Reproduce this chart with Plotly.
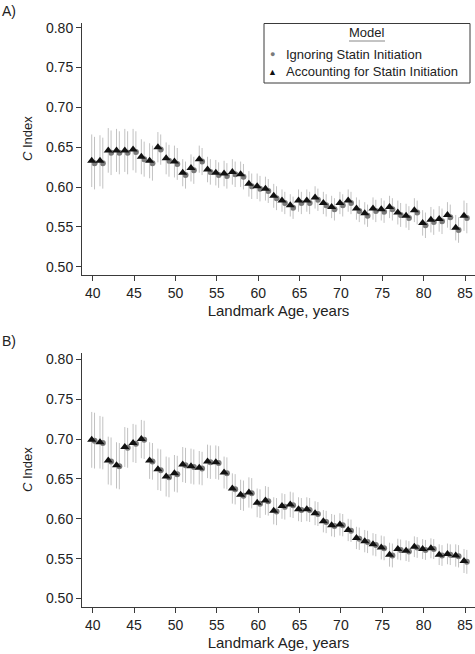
import plotly.graph_objects as go
from plotly.subplots import make_subplots

ages = list(range(40, 86))

# Panel A
a_acc = [0.633, 0.633, 0.646, 0.646, 0.646, 0.647, 0.638, 0.633, 0.650, 0.636,
         0.632, 0.618, 0.624, 0.635, 0.622, 0.618, 0.617, 0.619, 0.616, 0.604,
         0.601, 0.598, 0.589, 0.583, 0.577, 0.583, 0.583, 0.587, 0.580, 0.575,
         0.580, 0.583, 0.573, 0.567, 0.573, 0.572, 0.575, 0.568, 0.564, 0.571,
         0.555, 0.559, 0.560, 0.565, 0.549, 0.564]
a_ign = [0.630, 0.630, 0.643, 0.643, 0.643, 0.644, 0.635, 0.630, 0.647, 0.633,
         0.629, 0.615, 0.621, 0.632, 0.619, 0.615, 0.614, 0.616, 0.613, 0.601,
         0.598, 0.595, 0.586, 0.580, 0.574, 0.580, 0.580, 0.584, 0.577, 0.572,
         0.577, 0.580, 0.570, 0.564, 0.570, 0.569, 0.572, 0.565, 0.561, 0.568,
         0.552, 0.556, 0.557, 0.562, 0.546, 0.561]
a_ci = [0.033, 0.032, 0.028, 0.027, 0.027, 0.026, 0.022, 0.022, 0.019, 0.020,
        0.020, 0.017, 0.017, 0.017, 0.016, 0.016, 0.016, 0.016, 0.016, 0.016,
        0.016, 0.015, 0.015, 0.014, 0.014, 0.014, 0.014, 0.014, 0.014, 0.014,
        0.014, 0.014, 0.014, 0.014, 0.014, 0.014, 0.014, 0.015, 0.015, 0.015,
        0.016, 0.016, 0.016, 0.016, 0.016, 0.019]

# Panel B
b_acc = [0.699, 0.696, 0.673, 0.667, 0.690, 0.695, 0.700, 0.673, 0.662, 0.653,
         0.657, 0.668, 0.666, 0.664, 0.672, 0.671, 0.658, 0.638, 0.630, 0.633,
         0.620, 0.623, 0.610, 0.616, 0.618, 0.612, 0.612, 0.607, 0.597, 0.592,
         0.593, 0.586, 0.576, 0.572, 0.568, 0.564, 0.555, 0.562, 0.560, 0.565,
         0.562, 0.563, 0.555, 0.556, 0.554, 0.547]
b_ign = [0.698, 0.695, 0.672, 0.666, 0.689, 0.694, 0.699, 0.672, 0.661, 0.652,
         0.656, 0.667, 0.665, 0.663, 0.671, 0.670, 0.657, 0.637, 0.629, 0.632,
         0.619, 0.622, 0.609, 0.615, 0.617, 0.611, 0.611, 0.606, 0.596, 0.591,
         0.592, 0.585, 0.575, 0.571, 0.567, 0.563, 0.554, 0.561, 0.559, 0.564,
         0.561, 0.562, 0.554, 0.555, 0.553, 0.546]
b_ci = [0.035, 0.033, 0.030, 0.029, 0.025, 0.024, 0.024, 0.023, 0.026, 0.025,
        0.023, 0.022, 0.022, 0.021, 0.021, 0.021, 0.020, 0.019, 0.019, 0.019,
        0.018, 0.018, 0.017, 0.016, 0.016, 0.015, 0.015, 0.015, 0.014, 0.014,
        0.014, 0.014, 0.014, 0.014, 0.014, 0.015, 0.015, 0.013, 0.013, 0.013,
        0.0125, 0.0125, 0.013, 0.013, 0.014, 0.015]

y_ticks = [0.50, 0.55, 0.60, 0.65, 0.70, 0.75, 0.80]
x_ticks = [40, 45, 50, 55, 60, 65, 70, 75, 80, 85]
x_title = "Landmark Age, years"
y_title = "<i>C</i> Index"
legend_title = "Model"
name_ign = "Ignoring Statin Initiation"
name_acc = "Accounting for Statin Initiation"

W, H = 475, 654
ML, MR, MT, MB = 82, 0, 23, 47
PW, PH = W - ML - MR, H - MT - MB
FONT = "Arial, Liberation Sans, sans-serif"
AXC = "#3a3a3a"
ERRC = "#c2c2c2"


def px2x(px):
    return (px - ML) / PW


def px2y(py):
    return (H - MB - py) / PH


fig = make_subplots(rows=2, cols=1)

panels = [(a_acc, a_ign, a_ci, 1), (b_acc, b_ign, b_ci, 2)]
for acc, ign, ci, r in panels:
    fig.add_trace(go.Scatter(
        x=[a + 0.22 for a in ages], y=ign, mode="markers", name=name_ign,
        marker=dict(symbol="circle", size=6, color="#7a7a7a"),
        error_y=dict(type="data", array=ci, color=ERRC, thickness=1, width=0),
        showlegend=False), row=r, col=1)
    fig.add_trace(go.Scatter(
        x=[a - 0.12 for a in ages], y=acc, mode="markers", name=name_acc,
        marker=dict(symbol="triangle-up", size=8, color="#111111"),
        error_y=dict(type="data", array=ci, color=ERRC, thickness=1, width=0),
        showlegend=False), row=r, col=1)

xr = [40 - (92.7 - ML) / 8.27, 85 + (W - 465) / 8.27]
axis_common = dict(showgrid=False, zeroline=False, showline=True, linecolor=AXC,
                   linewidth=1, ticks="outside", ticklen=5, tickcolor=AXC,
                   tickfont=dict(size=14, color="#222"))

fig.update_xaxes(range=xr, tickvals=x_ticks, **axis_common,
                 title=dict(text=x_title, font=dict(size=15, color="#222"), standoff=5))
fig.update_yaxes(tickvals=y_ticks, tickformat=".2f", **axis_common)

fig.update_layout(
    yaxis=dict(domain=[px2y(275), 1.0], range=[0.4896, 0.8059]),
    yaxis2=dict(domain=[0, px2y(353)], range=[0.4894, 0.8079]),
    xaxis=dict(domain=[0, 1]),
    xaxis2=dict(domain=[0, 1]),
)

ann = []
for txt, py in [("A)", 11), ("B)", 341)]:
    ann.append(dict(text=txt, x=px2x(0), y=px2y(py), xref="paper", yref="paper",
                    xanchor="left", yanchor="middle", showarrow=False,
                    font=dict(size=14, color="#222")))
for py in [139, 470]:
    ann.append(dict(text=y_title, x=px2x(27), y=px2y(py), xref="paper", yref="paper",
                    xanchor="center", yanchor="middle", textangle=-90, showarrow=False,
                    font=dict(size=13, color="#222")))
# legend (drawn manually)
ann.append(dict(text=legend_title, x=px2x(367), y=px2y(33), xref="paper", yref="paper",
                xanchor="center", yanchor="middle", showarrow=False,
                font=dict(size=13, color="#222")))
ann.append(dict(text="●", x=px2x(272), y=px2y(54), xref="paper", yref="paper",
                xanchor="center", yanchor="middle", showarrow=False,
                font=dict(size=9, color="#7a7a7a")))
ann.append(dict(text="▲", x=px2x(272), y=px2y(72), xref="paper", yref="paper",
                xanchor="center", yanchor="middle", showarrow=False,
                font=dict(size=9, color="#111")))
ann.append(dict(text=name_ign, x=px2x(284), y=px2y(54), xref="paper", yref="paper",
                xanchor="left", yanchor="middle", showarrow=False,
                font=dict(size=13, color="#222")))
ann.append(dict(text=name_acc, x=px2x(284), y=px2y(72), xref="paper", yref="paper",
                xanchor="left", yanchor="middle", showarrow=False,
                font=dict(size=13, color="#222")))

shapes = [
    dict(type="rect", xref="paper", yref="paper", x0=px2x(264), x1=px2x(470),
         y0=px2y(83), y1=px2y(23.5), line=dict(color=AXC, width=1), fillcolor="white"),
    dict(type="line", xref="paper", yref="paper", x0=px2x(349), x1=px2x(385),
         y0=px2y(41), y1=px2y(41), line=dict(color="#888", width=1)),
]

fig.update_layout(
    width=W, height=H, margin=dict(l=ML, r=MR, t=MT, b=MB),
    paper_bgcolor="white", plot_bgcolor="white",
    font=dict(family=FONT, size=14, color="#222"),
    annotations=ann, shapes=shapes, showlegend=False,
)

fig.write_html(
    "out.html",
    config={"displayModeBar": False},
    post_script="document.body.style.margin='0';document.body.style.overflow='hidden';",
)
